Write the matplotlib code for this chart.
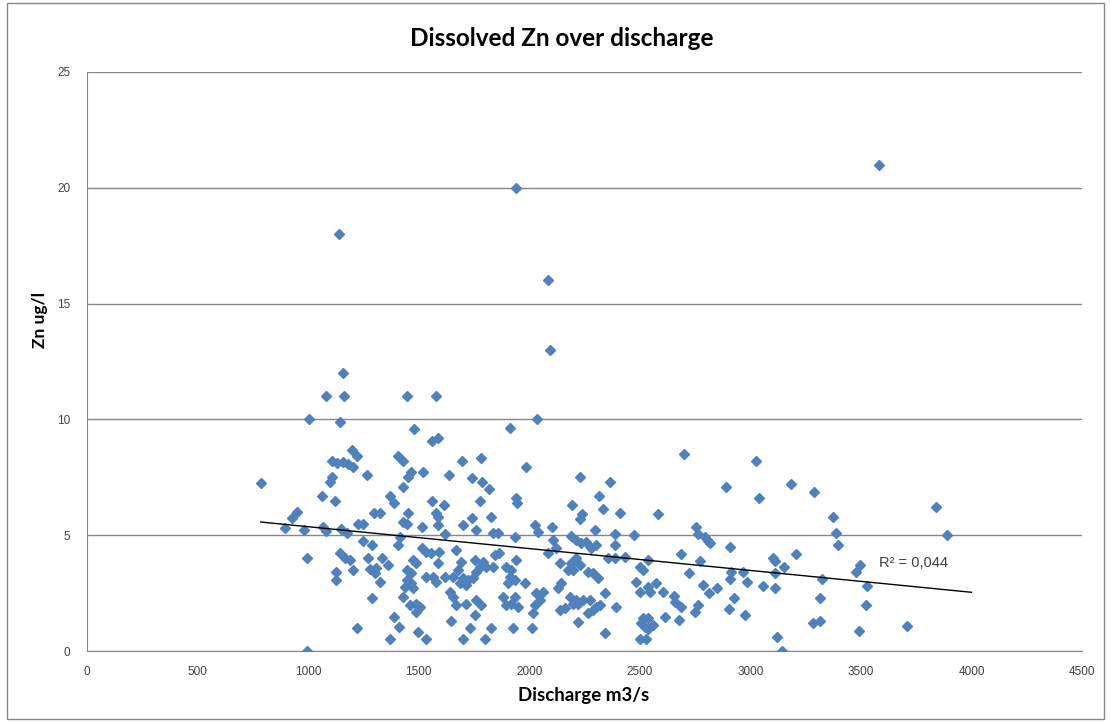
import numpy as np
import matplotlib
matplotlib.use("Agg")
import matplotlib.pyplot as plt
from matplotlib.patches import Rectangle

# Discharge (m3/s) and dissolved Zn (ug/l) samples
discharge = [
    1140, 1940, 2087, 2096, 3584, 1159,
    1079, 1162, 1445, 1577, 1003, 1142, 1479, 1561, 1588, 1199, 1219, 1106, 1131, 1158,
    1181, 1201, 1407, 1430, 1268, 1106, 1098, 1467, 1452, 1520, 1638, 786, 1427, 1061,
    1121, 1369, 1388, 1562, 1614, 951, 925, 1297, 1324, 1452, 1580, 1588, 1430, 1445,
    1226, 1249, 1588, 1513, 895, 981, 1068, 1083, 1151, 1174, 1618, 1414, 1407, 1249,
    1291, 1513, 1535, 1558, 1592, 1143, 996, 1166, 1189, 1271, 1332, 1475, 1490, 1588,
    1309, 1362, 1204, 1445, 1467, 1445, 1467, 1437, 1475, 1128, 1128, 1279, 1302, 1535,
    1565, 1580, 1618, 1324, 1640, 1656, 1427, 1291, 1460, 1490, 1505, 1490, 1388, 1648,
    1412, 1219, 1497, 1535, 1369, 995,
    2035, 1912, 1698, 1784, 1984, 1739, 1788, 1818, 2231, 2364, 1776, 1939, 1945, 2314,
    2195, 2334, 2240, 2231, 2409, 2582, 1829, 1739, 1701, 1758, 2025, 2040, 2105, 1836,
    1859, 1934, 2296, 2386, 2472, 2191, 2213, 2236, 2258, 2303, 2281, 2108, 2123, 2085,
    2386, 1668, 1864,
    1693, 1678, 1656, 1701, 1686, 1716, 1724, 1746, 1754, 1791, 1776, 1761, 1806, 1836,
    1844, 1897, 1919, 1912, 1942, 1904, 1934, 1980, 2138, 2191, 2213, 2198, 2176, 2228,
    2266, 2288, 2311, 2356, 2386, 2432, 2499, 2514, 2537, 2484, 2537, 2575, 2499, 2545,
    2605, 1882, 1934, 1897, 1919, 1950, 1671, 1716, 1761, 1784, 1754, 2032, 2062, 2047,
    2025, 2017, 2130, 2145, 2183, 2213, 2243, 2273, 2221, 2198, 2160, 2138, 2304, 2288,
    2266, 2319, 2341, 2391, 2221, 2341, 2514, 2537, 2522, 2560, 2537, 2507, 2612, 1731,
    1829, 1927, 2014, 1701, 1799, 2499, 2530,
    2698, 3027, 2888, 3186, 3287, 3037, 3376, 2755, 2763, 2793, 2808, 2819, 3388, 3396,
    2909, 2688, 3207, 2771, 3102, 3110, 3150, 2722, 2914, 2906, 2966, 2984, 3110, 3494,
    3479, 3325, 3527, 2653, 2658, 2688, 2786, 2813, 2849, 3057, 3110, 2924, 2763, 2752,
    2903, 2974, 2677, 3316, 3283, 3313, 3521, 3491, 3120, 3141,
    3840, 3888, 3708,
]
zinc = [
    18.0, 20.0, 16.0, 13.0, 21.0, 12.0,
    11.0, 11.0, 11.0, 11.0, 10.0, 9.9, 9.6, 9.08, 9.18, 8.7, 8.42, 8.22, 8.13, 8.17,
    8.07, 7.96, 8.42, 8.22, 7.6, 7.52, 7.31, 7.74, 7.52, 7.74, 7.6, 7.24, 7.09, 6.69,
    6.47, 6.69, 6.37, 6.49, 6.3, 6.01, 5.73, 5.97, 5.94, 5.97, 5.97, 5.8, 5.58, 5.48,
    5.48, 5.48, 5.44, 5.34, 5.29, 5.22, 5.34, 5.19, 5.25, 5.11, 5.05, 4.93, 4.57, 4.76,
    4.57, 4.43, 4.29, 4.21, 4.29, 4.21, 4.0, 4.0, 3.93, 4.0, 4.0, 3.93, 3.78, 3.78,
    3.57, 3.71, 3.49, 3.49, 3.35, 3.06, 2.92, 2.78, 2.71, 3.42, 3.06, 3.52, 3.35, 3.2,
    3.2, 2.99, 3.2, 2.99, 2.56, 2.34, 2.34, 2.27, 1.98, 2.05, 1.88, 1.7, 1.48, 1.31,
    1.02, 0.98, 0.83, 0.5, 0.5, 0.0,
    10.0, 9.61, 8.22, 8.32, 7.93, 7.45, 7.31, 6.98, 7.52, 7.31, 6.49, 6.59, 6.37, 6.69,
    6.3, 6.11, 5.91, 5.68, 5.97, 5.91, 5.8, 5.73, 5.44, 5.22, 5.44, 5.15, 5.34, 5.11,
    5.11, 4.93, 5.22, 5.05, 5.0, 4.96, 4.79, 4.65, 4.72, 4.57, 4.43, 4.79, 4.43, 4.21,
    4.57, 4.36, 4.24,
    3.85, 3.49, 3.2, 3.14, 2.92, 2.85, 3.06, 3.14, 3.93, 3.85, 3.64, 3.42, 3.64, 3.64,
    4.14, 3.64, 3.49, 3.2, 3.93, 2.92, 3.06, 2.92, 3.78, 3.78, 4.0, 3.49, 3.49, 3.71,
    3.42, 3.35, 3.14, 4.0, 4.0, 4.07, 3.64, 3.49, 3.93, 3.0, 2.78, 2.92, 2.56, 2.56,
    2.56, 2.34, 2.34, 1.98, 2.05, 1.91, 1.98, 2.05, 2.2, 1.98, 1.55, 2.49, 2.56, 2.2,
    1.98, 1.62, 2.7, 2.92, 2.34, 2.2, 2.2, 2.2, 2.05, 2.05, 1.84, 1.77, 1.91, 1.77,
    1.62, 1.98, 2.49, 1.88, 1.26, 0.76, 1.41, 1.41, 1.05, 1.12, 0.97, 1.19, 1.48, 0.98,
    0.98, 0.98, 0.98, 0.5, 0.5, 0.5, 0.5,
    8.5, 8.22, 7.06, 7.21, 6.88, 6.59, 5.8, 5.34, 5.05, 4.93, 4.76, 4.65, 5.11, 4.57,
    4.47, 4.18, 4.18, 3.9, 4.0, 3.9, 3.61, 3.38, 3.42, 3.09, 3.42, 2.99, 3.38, 3.71,
    3.42, 3.09, 2.8, 2.37, 2.13, 1.88, 2.85, 2.49, 2.7, 2.8, 2.7, 2.27, 1.98, 1.7,
    1.8, 1.55, 1.36, 2.27, 1.19, 1.31, 1.97, 0.87, 0.62, 0.0,
    6.2, 5.0, 1.08,
]

x = np.array(discharge, dtype=float)
y = np.array(zinc, dtype=float)

# linear trend, extended to 4000 m3/s
slope, intercept = np.polyfit(x, y, 1)
trend_x = np.array([x.min(), 4000])
trend_y = slope * trend_x + intercept

fig = plt.figure(figsize=(11.1, 7.25), dpi=100)
W, H = 1110, 725
ax = fig.add_axes([87 / W, 1 - 651 / H, (1082 - 87) / W, (651 - 72) / H])

grey = "#868686"
ax.plot(x, y, linestyle="none", marker="D", ms=5.5, color="#4F81BD", mec="#4F81BD", zorder=3)
ax.plot(trend_x, trend_y, color="black", lw=1, zorder=4)

ax.set_xlim(0, 4500)
ax.set_ylim(0, 25)
ax.set_xticks(np.arange(0, 4501, 500))
ax.set_yticks(np.arange(0, 26, 5))
ax.yaxis.grid(True, color=grey, lw=1)
ax.set_axisbelow(True)
for side in ["top", "right"]:
    ax.spines[side].set_visible(False)
for side in ["left", "bottom"]:
    ax.spines[side].set_color(grey)
ax.tick_params(length=0, labelsize=8.5, labelcolor="#404040")
ax.tick_params(axis="y", pad=12)
ax.tick_params(axis="x", pad=11)
for lbl in ax.get_xticklabels() + ax.get_yticklabels():
    lbl.set_family("Liberation Sans")

ax.text(3580, 3.8, "R² = 0,044", fontsize=10.5, color="#404040", family="Liberation Sans",
        va="center", ha="left")

fig.text(562 / W, 1 - 38 / H, "Dissolved Zn over discharge", ha="center", va="center",
         fontsize=17.5, fontweight="bold", family="Lato")
fig.text(584 / W, 1 - 695 / H, "Discharge m3/s", ha="center", va="center",
         fontsize=13.5, fontweight="bold", family="Lato")
fig.text(40 / W, 1 - 320 / H, "Zn ug/l", ha="center", va="center", rotation=90,
         fontsize=12.5, fontweight="bold", family="Lato")

# outer chart frame
fig.patches.append(Rectangle((7 / W, 1 - 719 / H), (1104 - 7) / W, (719 - 3) / H,
                             transform=fig.transFigure, fill=False, edgecolor=grey, lw=1))

fig.savefig("out.png", dpi=100)
